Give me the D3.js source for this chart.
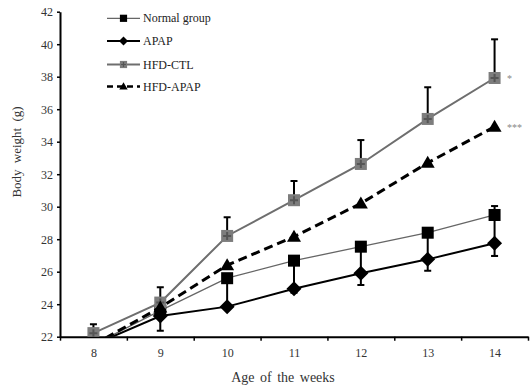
<!DOCTYPE html>
<html><head><meta charset="utf-8">
<script src="https://cdn.jsdelivr.net/npm/d3@7"></script>
<style>body{margin:0;background:#fff}svg{display:block}</style>
</head><body><svg id="c" width="531" height="386"></svg>
<script>
const weeks = [8, 9, 10, 11, 12, 13, 14];
const yTicks = [22, 24, 26, 28, 30, 32, 34, 36, 38, 40, 42];
const seriesNames = ["Normal group", "APAP", "HFD-CTL", "HFD-APAP"];
const normalVals = [21.5, 23.6, 25.6, 26.68, 27.54, 28.4, 29.49];
const normalErrUp = [0, 0, 0, 0, 0, 0, 0.55];
const normalErrDown = [0, 0, 1.7, 1.7, 1.6, 1.6, 1.7];
const apapVals = [21.5, 23.27, 23.85, 24.95, 25.9, 26.76, 27.75];
const apapErrUp = [0, 0, 0, 0, 0, 0, 0];
const apapErrDown = [0, 0.9, 0, 0.25, 0.72, 0.7, 0.78];
const hfdCtlVals = [22.22, 24.1, 28.2, 30.4, 32.63, 35.4, 37.92];
const hfdCtlErrUp = [0.55, 0.95, 1.15, 1.18, 1.47, 1.95, 2.38];
const hfdCtlErrDown = [0, 0, 0, 0, 0, 0, 0];
const hfdApapVals = [21.5, 23.8, 26.4, 28.15, 30.2, 32.7, 34.92];
const signif = ["*", "***"];

const svg = d3.select("#c");
const x = d3.scaleLinear().domain([7.5, 14.5]).range([60, 528]);
const y = d3.scaleLinear().domain([22, 42]).range([336.7, 11.7]);
const serif = "'Liberation Serif', 'Times New Roman', serif";

svg.append("defs").append("clipPath").attr("id", "clip")
  .append("rect").attr("x", 60).attr("y", 0).attr("width", 471).attr("height", 336.7);

// axes
const gy = svg.append("g").attr("transform", "translate(60,0)")
  .call(d3.axisLeft(y).tickValues(yTicks).tickSize(3).tickSizeOuter(0).tickPadding(4));
gy.select(".domain").attr("stroke-width", 2);
gy.selectAll(".tick line").attr("stroke-width", 1.5);
gy.selectAll("text").attr("font-family", serif).attr("font-size", 12).attr("fill", "#333");

const bounds = d3.range(7.5, 15, 1);
const gx = svg.append("g").attr("transform", "translate(0,336.7)")
  .call(d3.axisBottom(x).tickValues(bounds).tickSize(4).tickSizeOuter(0).tickFormat(""));
gx.select(".domain").attr("stroke-width", 2);
gx.selectAll(".tick line").attr("stroke-width", 1.5);
const gxl = svg.append("g").attr("transform", "translate(0,336.7)")
  .call(d3.axisBottom(x).tickValues(weeks).tickSize(0).tickPadding(12).tickFormat(d3.format("d")));
gxl.select(".domain").remove();
gxl.selectAll("text").attr("font-family", serif).attr("font-size", 12).attr("fill", "#333");

svg.append("text").attr("x", 283).attr("y", 382).attr("text-anchor", "middle")
  .attr("font-family", serif).attr("font-size", 14).attr("fill", "#333").attr("word-spacing", 2)
  .text("Age of the weeks");
svg.append("text").attr("transform", "translate(21,152) rotate(-90)").attr("text-anchor", "middle")
  .attr("font-family", serif).attr("font-size", 13).attr("fill", "#333").attr("word-spacing", 3)
  .text("Body weight (g)");

// markers
function marker(g, type, cx, cy, s) {
  if (type === "square") {
    g.append("rect").attr("x", cx - 6).attr("y", cy - 6).attr("width", 12).attr("height", 12).attr("fill", "#000");
  } else if (type === "diamond") {
    g.append("path").attr("d", `M${cx},${cy - 7.5}L${cx + 7.5},${cy}L${cx},${cy + 7.5}L${cx - 7.5},${cy}Z`).attr("fill", "#000");
  } else if (type === "graysq") {
    g.append("rect").attr("x", cx - 6).attr("y", cy - 6).attr("width", 12).attr("height", 12).attr("fill", "#7d7d7d");
    g.append("path").attr("d", `M${cx - 4},${cy}H${cx + 4}M${cx},${cy - 4}V${cy + 4}`).attr("stroke", "#555").attr("stroke-width", 2);
  } else if (type === "triangle") {
    g.append("path").attr("d", `M${cx},${cy - 7}L${cx + 7},${cy + 5}L${cx - 7},${cy + 5}Z`).attr("fill", "#000");
  }
}

const series = [
  {vals: normalVals, up: normalErrUp, down: normalErrDown, color: "#666", width: 1.3, dash: null, mk: "square"},
  {vals: apapVals, up: apapErrUp, down: apapErrDown, color: "#000", width: 2, dash: null, mk: "diamond"},
  {vals: hfdCtlVals, up: hfdCtlErrUp, down: hfdCtlErrDown, color: "#6e6e6e", width: 2, dash: null, mk: "graysq"},
  {vals: hfdApapVals, up: null, down: null, color: "#000", width: 3, dash: "9,5", mk: "triangle"}
];

const plot = svg.append("g").attr("clip-path", "url(#clip)");
const line = d3.line().x((d, i) => x(weeks[i])).y(d => y(d));

series.forEach(s => {
  const g = plot.append("g");
  g.append("path").attr("d", line(s.vals)).attr("fill", "none").attr("stroke", s.color)
    .attr("stroke-width", s.width).attr("stroke-dasharray", s.dash);
  if (s.up) {
    s.vals.forEach((v, i) => {
      const cx = x(weeks[i]);
      [[s.up[i], 1], [s.down[i], -1]].forEach(([e, sign]) => {
        if (e > 0) {
          const ye = y(v + sign * e);
          g.append("line").attr("x1", cx).attr("x2", cx).attr("y1", y(v)).attr("y2", ye).attr("stroke", "#000").attr("stroke-width", 2);
          g.append("line").attr("x1", cx - 3.5).attr("x2", cx + 3.5).attr("y1", ye).attr("y2", ye).attr("stroke", "#000").attr("stroke-width", 2);
        }
      });
    });
  }
  s.vals.forEach((v, i) => marker(g, s.mk, x(weeks[i]), y(v)));
});

// significance
svg.append("text").attr("x", 507).attr("y", y(hfdCtlVals[6]) + 4).attr("font-family", serif)
  .attr("font-size", 10).attr("fill", "#888").text(signif[0]);
svg.append("text").attr("x", 507).attr("y", y(hfdApapVals[6]) + 4).attr("font-family", serif)
  .attr("font-size", 10).attr("fill", "#888").text(signif[1]);

// legend
const leg = svg.append("g");
const legY = [18.3, 41, 64.5, 86.5];
const legMk = ["square", "diamond", "graysq", "triangle"];
series.forEach((s, i) => {
  const ly = legY[i];
  leg.append("line").attr("x1", 107).attr("x2", 140).attr("y1", ly).attr("y2", ly)
    .attr("stroke", s.color).attr("stroke-width", s.width === 3 ? 2.5 : s.width).attr("stroke-dasharray", s.dash ? "6,4" : null);
  const mg = leg.append("g").attr("transform", `translate(123.5,${ly}) scale(0.6) translate(-123.5,${-ly})`);
  marker(mg, legMk[i], 123.5, ly);
  leg.append("text").attr("x", 143).attr("y", ly + 4).attr("font-family", serif).attr("font-size", 12)
    .attr("fill", "#222").text(seriesNames[i]);
});
</script></body></html>
